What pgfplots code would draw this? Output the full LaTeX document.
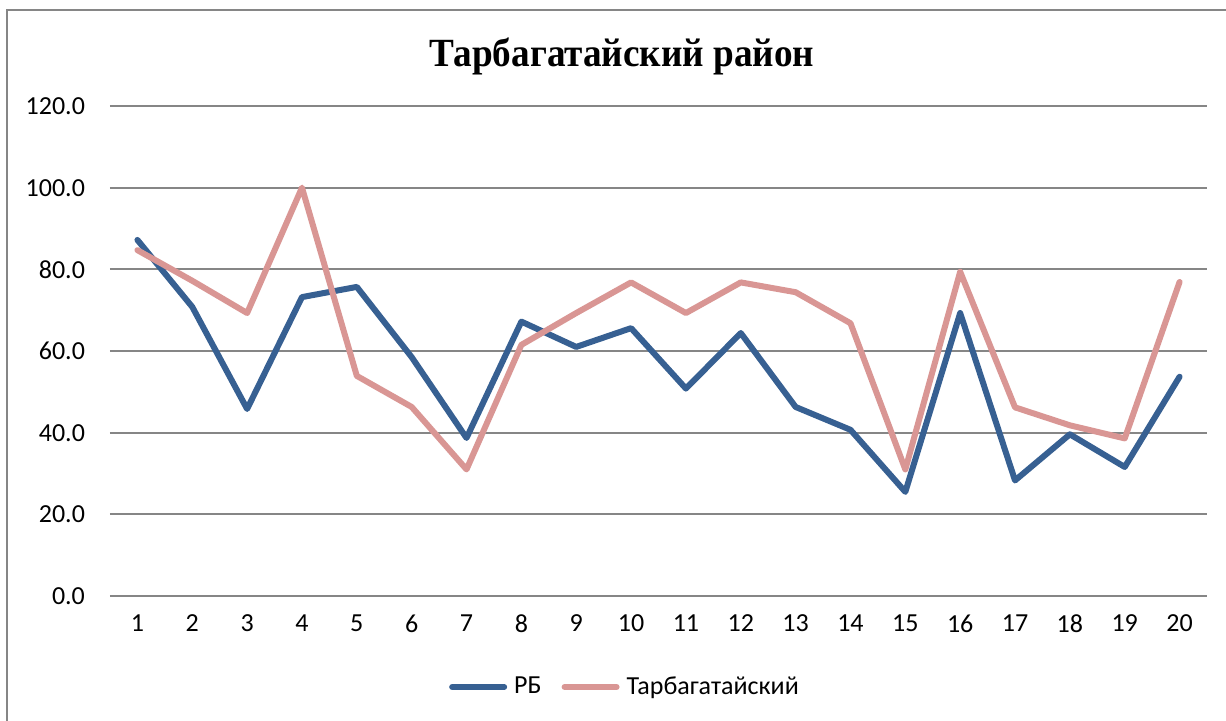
\documentclass[border=0pt]{standalone}
\usepackage{pgfplots}
\pgfplotsset{compat=1.18}
\usepackage{fontspec}
\setmainfont{Carlito}
\newfontfamily\titlefont{Liberation Serif}
\definecolor{rbblue}{RGB}{55,96,146}
\definecolor{tarpink}{RGB}{217,150,148}
\definecolor{gridgray}{RGB}{134,134,134}
\begin{document}
\begin{tikzpicture}[x=1pt,y=1pt]
\useasboundingbox (0,0) rectangle (613,360);
\draw[gridgray, line width=0.8pt] (3.5,-10) -- (3.5,355) -- (630,355);
\node[font=\titlefont\bfseries\fontsize{20}{20}\selectfont] at (311,332) {\scalebox{0.93}[1]{Тарбагатайский район}};
\begin{axis}[
  at={(55pt,62pt)}, anchor=south west,
  scale only axis, width=548.5pt, height=245pt,
  xmin=0.5, xmax=20.5, ymin=0, ymax=120,
  xtick={1,...,20}, ytick={0,20,...,120},
  axis line style={draw=none},
  major tick length=0pt,
  ymajorgrids, grid style={gridgray, line width=1pt},
  tick label style={font=\fontsize{13}{13}\selectfont},
  /pgf/number format/assume math mode=true,
  yticklabel={\pgfmathprintnumber[fixed,fixed zerofill,precision=1]{\tick}},
  yticklabel style={xshift=-9pt},
  xticklabel style={yshift=-6pt},
  legend columns=2,
  legend style={at={(258pt,-45.5pt)}, anchor=center, draw=none, fill=none,
    font=\fontsize{13}{13}\selectfont, column sep=1.5pt,
    /tikz/every even column/.append style={column sep=8pt}},
  legend image code/.code={\draw[#1, line cap=round] (0pt,0pt) -- (26pt,0pt);},
]
\addplot[rbblue, line width=3pt, line join=round, line cap=round] coordinates {
(1,87.2) (2,70.8) (3,45.8) (4,73.2) (5,75.7) (6,58.5) (7,38.7) (8,67.2) (9,61.0) (10,65.6)
(11,50.8) (12,64.4) (13,46.3) (14,40.7) (15,25.5) (16,69.3) (17,28.3) (18,39.6) (19,31.6) (20,53.7)};
\addlegendentry{РБ}
\addplot[tarpink, line width=3pt, line join=round, line cap=round] coordinates {
(1,84.7) (2,77.2) (3,69.3) (4,100.0) (5,53.9) (6,46.3) (7,31.0) (8,61.5) (9,69.3) (10,76.8)
(11,69.3) (12,76.8) (13,74.4) (14,66.8) (15,31.0) (16,79.4) (17,46.2) (18,41.8) (19,38.6) (20,76.9)};
\addlegendentry{Тарбагатайский}
\end{axis}
\end{tikzpicture}
\end{document}
